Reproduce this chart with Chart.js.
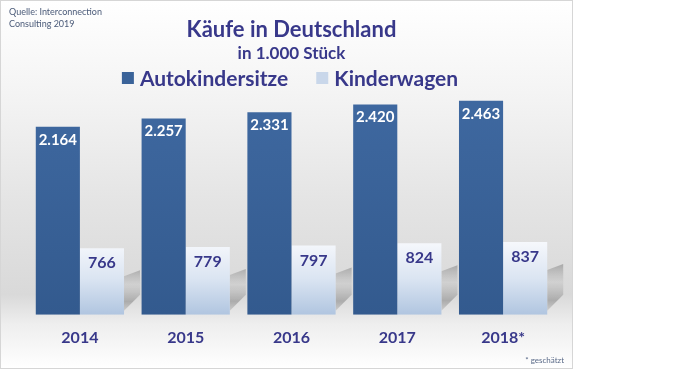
<!DOCTYPE html>
<html>
<head>
<meta charset="utf-8">
<script src="https://cdn.jsdelivr.net/npm/chart.js@4/dist/chart.umd.min.js"></script>
<style>
  html, body { margin: 0; padding: 0; background: #fff; }
  #panel {
    position: absolute; left: 0; top: 0;
    width: 571px; height: 367px;
    border: 1px solid #d6d6d6;
    background: linear-gradient(to bottom, #ffffff 0%, #f4f4f4 25%, #e4e4e4 55%, #d9d9d9 80%, #eeeeee 88%, #ffffff 100%);
  }
  #chart { display: block; }
</style>
</head>
<body>
<div id="panel"><canvas id="chart" width="571" height="367"></canvas></div>
<script>
// Daten (Käufe in 1.000 Stück)
const years = ['2014', '2015', '2016', '2017', '2018*'];
const autokindersitze = [2164, 2257, 2331, 2420, 2463];
const kinderwagen = [766, 779, 797, 824, 837];

const NAVY = '#38388a';
const FONT = 'Lato, "Open Sans", sans-serif';
const AUTO_COLOR = '#3a6399';
const WAGEN_COLOR = '#c9d7ea';

// 2164 -> "2.164"
function fmt(n) {
    return String(n).replace(/\B(?=(\d{3})+(?!\d))/g, '.');
}

// Werte in die Balken schreiben
const valueLabels = {
    id: 'valueLabels',
    afterDatasetsDraw(chart) {
        const ctx = chart.ctx;
        ctx.save();
        ctx.textAlign = 'center';
        ctx.textBaseline = 'middle';
        chart.data.datasets.forEach((ds, i) => {
            const meta = chart.getDatasetMeta(i);
            meta.data.forEach((bar, j) => {
                if (i === 0) {
                    ctx.fillStyle = '#ffffff';
                    ctx.font = 'bold 15px ' + FONT;
                    ctx.fillText(fmt(ds.data[j]), bar.x, bar.y + 13);
                } else {
                    ctx.fillStyle = NAVY;
                    ctx.font = 'bold 16px ' + FONT;
                    ctx.fillText(fmt(ds.data[j]), bar.x, bar.y + 15);
                }
            });
        });
        ctx.restore();
    }
};

// grauer Schatten rechts neben den Kinderwagen-Balken
const barShadow = {
    id: 'barShadow',
    beforeDatasetsDraw(chart) {
        const ctx = chart.ctx;
        const meta = chart.getDatasetMeta(1);
        ctx.save();
        meta.data.forEach(bar => {
            const right = bar.x + bar.width / 2;
            const top = bar.y;
            const bottom = bar.base;
            const g = ctx.createLinearGradient(0, top, 0, bottom);
            g.addColorStop(0, 'rgba(150,150,150,0.0)');
            g.addColorStop(0.3, 'rgba(150,150,150,0.75)');
            g.addColorStop(0.55, 'rgba(190,190,190,0.35)');
            g.addColorStop(0.8, 'rgba(150,150,150,0.7)');
            g.addColorStop(1, 'rgba(160,160,160,0.2)');
            ctx.fillStyle = g;
            ctx.beginPath();
            ctx.moveTo(right, top + 28);
            ctx.lineTo(right + 16, top + 22);
            ctx.lineTo(right + 16, bottom - 20);
            ctx.lineTo(right, bottom - 4);
            ctx.closePath();
            ctx.fill();
        });
        ctx.restore();
    }
};

// Legende, Quelle und Fußnote
const extras = {
    id: 'extras',
    afterDraw(chart) {
        const ctx = chart.ctx;
        ctx.save();

        // Legende
        const items = [
            { text: chart.data.datasets[0].label, color: AUTO_COLOR },
            { text: chart.data.datasets[1].label, color: WAGEN_COLOR }
        ];
        ctx.font = 'bold 21px ' + FONT;
        ctx.textBaseline = 'middle';
        ctx.textAlign = 'left';
        const box = 12, gapBox = 6, gapItem = 28, cy = 77;
        let total = 0;
        items.forEach((it, k) => {
            it.w = ctx.measureText(it.text).width;
            total += box + gapBox + it.w + (k ? 0 : gapItem);
        });
        let x = 289 - total / 2;
        items.forEach(it => {
            ctx.fillStyle = it.color;
            ctx.fillRect(x, cy - box / 2, box, box);
            x += box + gapBox;
            ctx.fillStyle = NAVY;
            ctx.fillText(it.text, x, cy + 1);
            x += it.w + gapItem;
        });

        // Quelle
        ctx.fillStyle = '#4a5a78';
        ctx.font = '9px ' + FONT;
        ctx.fillText('Quelle: Interconnection', 8, 11);
        ctx.fillText('Consulting 2019', 8, 23);

        // Fußnote
        ctx.textAlign = 'right';
        ctx.fillStyle = '#5a6a88';
        ctx.font = '8px ' + FONT;
        ctx.fillText('* geschätzt', 563, 359);
        ctx.restore();
    }
};

const ctx = document.getElementById('chart').getContext('2d');
new Chart(ctx, {
    type: 'bar',
    data: {
        labels: years,
        datasets: [
            {
                label: 'Autokindersitze',
                data: autokindersitze,
                backgroundColor: (c) => {
                    const area = c.chart.chartArea;
                    if (!area) return AUTO_COLOR;
                    const g = c.chart.ctx.createLinearGradient(0, area.top, 0, area.bottom);
                    g.addColorStop(0, '#3f69a1');
                    g.addColorStop(1, '#335a8e');
                    return g;
                },
                borderWidth: 0
            },
            {
                label: 'Kinderwagen',
                data: kinderwagen,
                backgroundColor: (c) => {
                    const area = c.chart.chartArea;
                    if (!area) return WAGEN_COLOR;
                    const y = c.chart.scales.y;
                    const g = c.chart.ctx.createLinearGradient(0, y.getPixelForValue(840), 0, y.getPixelForValue(0));
                    g.addColorStop(0, '#f6f8fc');
                    g.addColorStop(0.5, '#dbe5f2');
                    g.addColorStop(1, '#b0c5e0');
                    return g;
                },
                borderWidth: 0
            }
        ]
    },
    options: {
        responsive: false,
        animation: false,
        categoryPercentage: 0.834,
        barPercentage: 1.0,
        layout: { padding: { left: 26, right: 16, top: 0, bottom: 8 } },
        plugins: {
            title: {
                display: true,
                text: 'Käufe in Deutschland',
                color: NAVY,
                font: { family: FONT, size: 22, weight: 'bold' },
                padding: { top: 16, bottom: 0 }
            },
            subtitle: {
                display: true,
                text: 'in 1.000 Stück',
                color: NAVY,
                font: { family: FONT, size: 17, weight: 'bold' },
                padding: { top: 0, bottom: 25 }
            },
            legend: { display: false },
            tooltip: { enabled: false }
        },
        scales: {
            x: {
                grid: { display: false, drawTicks: false },
                border: { display: false },
                ticks: {
                    color: NAVY,
                    padding: 13,
                    font: { family: FONT, size: 16, weight: 'bold' }
                }
            },
            y: {
                display: false,
                min: 0,
                max: 2600
            }
        }
    },
    plugins: [barShadow, valueLabels, extras]
});
</script>
</body>
</html>
